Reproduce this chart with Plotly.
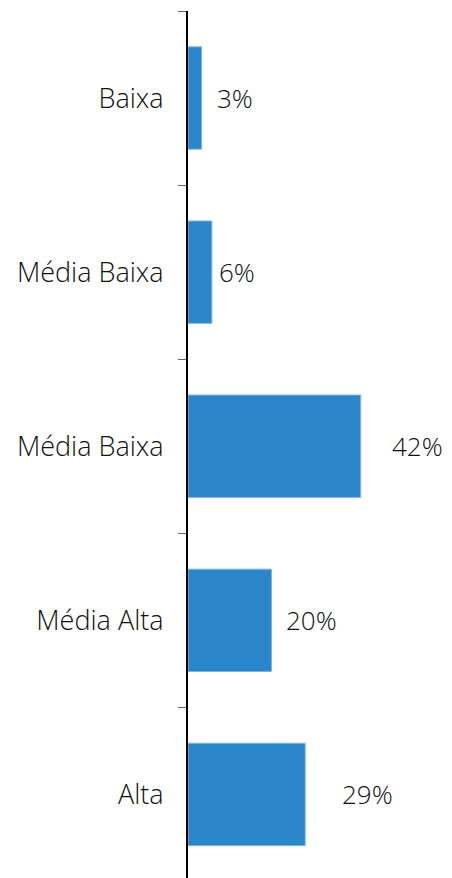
import plotly.graph_objects as go

categories = ["Baixa", "Média Baixa", "Média Baixa", "Média Alta", "Alta"]
values = [3.3, 5.8, 42.0, 20.3, 28.5]
value_labels = ["3%", "6%", "42%", "20%", "29%"]

# pixel offsets of value labels from bar ends (layout styling)
label_shift = [13, 5, 29, 13, 35]

pos = list(range(len(categories)))
FONT = "Open Sans"
FSIZE = 27

fig = go.Figure()
fig.add_trace(go.Bar(
    x=values, y=pos, orientation="h",
    marker=dict(color="#2b86c9", line=dict(color="#7ab6e3", width=1)),
    width=0.588, hoverinfo="skip",
))

for i, (v, t) in enumerate(zip(values, value_labels)):
    fig.add_annotation(
        x=v, y=i, text=t, showarrow=False, xanchor="left", yanchor="middle",
        xshift=label_shift[i], font=dict(family=FONT, size=26, color="#111111", weight=300),
    )

fig.update_layout(
    width=444, height=870,
    margin=dict(l=180, r=0, t=3, b=0),
    plot_bgcolor="white", paper_bgcolor="white",
    showlegend=False,
)
fig.update_xaxes(range=[0, 64.2], visible=False, fixedrange=True)
fig.update_yaxes(
    range=[4.48, -0.5], tickmode="array", tickvals=pos, ticktext=categories,
    ticks="", showgrid=False, zeroline=False,
    showline=True, linecolor="black", linewidth=2,
    tickfont=dict(family=FONT, size=FSIZE, color="#111111", weight=300),
    ticklabelstandoff=17,
    minor=dict(tick0=-0.5, dtick=1, ticks="outside", ticklen=8, tickcolor="#666666", tickwidth=1, showgrid=False),
)

fig.write_html("out.html")
